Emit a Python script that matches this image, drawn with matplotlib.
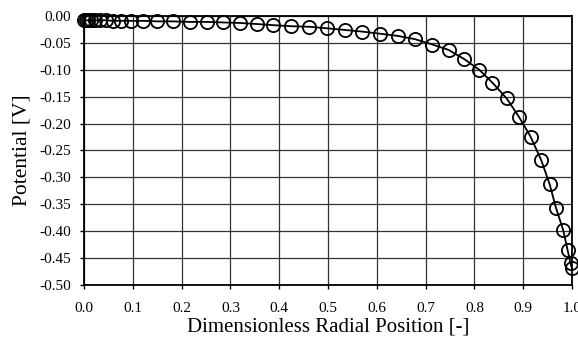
import matplotlib
matplotlib.use("Agg")
import matplotlib.pyplot as plt
import numpy as np

plt.rcParams['font.family'] = ['Liberation Serif', 'DejaVu Serif']
plt.rcParams['axes.unicode_minus'] = False

# --- data ---
radial_pos = [0.000, 0.004, 0.008, 0.014, 0.023, 0.033, 0.045, 0.059, 0.076, 0.096,
              0.121, 0.150, 0.182, 0.217, 0.252, 0.285, 0.320, 0.355, 0.387, 0.424,
              0.461, 0.499, 0.535, 0.570, 0.607, 0.643, 0.678, 0.714, 0.747, 0.779,
              0.810, 0.837, 0.866, 0.891, 0.915, 0.937, 0.954, 0.967, 0.982, 0.991,
              0.997, 1.000]
potential = [-0.008, -0.008, -0.008, -0.008, -0.008, -0.008, -0.008, -0.009, -0.009, -0.009,
             -0.009, -0.010, -0.010, -0.011, -0.011, -0.012, -0.013, -0.015, -0.017, -0.019,
             -0.020, -0.023, -0.026, -0.029, -0.033, -0.037, -0.043, -0.053, -0.063, -0.080,
             -0.100, -0.124, -0.153, -0.187, -0.224, -0.268, -0.312, -0.356, -0.398, -0.435,
             -0.460, -0.469]

x_ticks = np.arange(0, 1.01, 0.1)
y_ticks = np.arange(-0.50, 0.001, 0.05)

fig = plt.figure(figsize=(5.78, 3.38), dpi=100)
ax = fig.add_axes([0.1453, 0.1568, 0.8443, 0.7959])

ax.plot(radial_pos, potential, color='black', lw=1.3, marker='o', markersize=9.5,
        markerfacecolor='none', markeredgecolor='black', markeredgewidth=1.3,
        clip_on=False, zorder=3)

ax.set_xlim(0, 1.0)
ax.set_ylim(-0.50, 0.0)
ax.set_xticks(x_ticks)
ax.set_yticks(y_ticks)
ax.set_xticklabels([f"{v:.1f}" for v in x_ticks])
ax.set_yticklabels([f"{v:.2f}" if abs(v) > 1e-9 else "0.00" for v in y_ticks])
ax.tick_params(axis='both', direction='out', length=3, width=1, labelsize=11, color='black')
ax.tick_params(axis='x', pad=9)
ax.tick_params(axis='y', pad=6)
ax.grid(True, color='#333333', lw=0.9)
for s in ax.spines.values():
    s.set_color('black')
    s.set_linewidth(1.3)

ax.set_xlabel('Dimensionless Radial Position [-]', fontsize=15, labelpad=2)
ax.set_ylabel('Potential [V]', fontsize=15.5, labelpad=6)

fig.savefig('out.png', dpi=100)
